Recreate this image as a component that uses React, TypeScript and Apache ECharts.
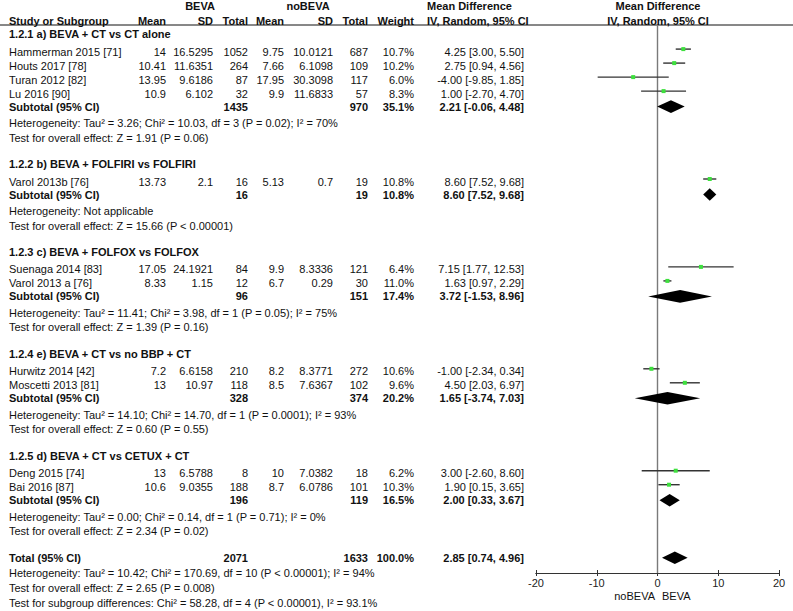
import React, { useEffect, useRef } from 'react';
import * as echarts from 'echarts';

// ---------- data ----------
const groupTitles = [
  '1.2.1 a) BEVA + CT vs CT alone',
  '1.2.2 b) BEVA + FOLFIRI vs FOLFIRI',
  '1.2.3 c) BEVA + FOLFOX vs FOLFOX',
  '1.2.4 e) BEVA + CT vs no BBP + CT',
  '1.2.5 d) BEVA + CT vs CETUX + CT',
];
const studyNames = [
  'Hammerman 2015 [71]', 'Houts 2017 [78]', 'Turan 2012 [82]', 'Lu 2016 [90]',
  'Varol 2013b [76]',
  'Suenaga 2014 [83]', 'Varol 2013 a [76]',
  'Hurwitz 2014 [42]', 'Moscetti 2013 [81]',
  'Deng 2015 [74]', 'Bai 2016 [87]',
];
const studyGroup = [0, 0, 0, 0, 1, 2, 2, 3, 3, 4, 4];
const bevaMean = [14, 10.41, 13.95, 10.9, 13.73, 17.05, 8.33, 7.2, 13, 13, 10.6];
const bevaSD = [16.5295, 11.6351, 9.6186, 6.102, 2.1, 24.1921, 1.15, 6.6158, 10.97, 6.5788, 9.0355];
const bevaTotal = [1052, 264, 87, 32, 16, 84, 12, 210, 118, 8, 188];
const noMean = [9.75, 7.66, 17.95, 9.9, 5.13, 9.9, 6.7, 8.2, 8.5, 10, 8.7];
const noSD = [10.0121, 6.1098, 30.3098, 11.6833, 0.7, 8.3336, 0.29, 8.3771, 7.6367, 7.0382, 6.0786];
const noTotal = [687, 109, 117, 57, 19, 121, 30, 272, 102, 18, 101];
const studyWeight = [10.7, 10.2, 6.0, 8.3, 10.8, 6.4, 11.0, 10.6, 9.6, 6.2, 10.3];
const studyMD = [4.25, 2.75, -4.0, 1.0, 8.6, 7.15, 1.63, -1.0, 4.5, 3.0, 1.9];
const studyLo = [3.0, 0.94, -9.85, -2.7, 7.52, 1.77, 0.97, -2.34, 2.03, -2.6, 0.15];
const studyHi = [5.5, 4.56, 1.85, 4.7, 9.68, 12.53, 2.29, 0.34, 6.97, 8.6, 3.65];

const subBevaTotal = [1435, 16, 96, 328, 196];
const subNoTotal = [970, 19, 151, 374, 119];
const subWeight = [35.1, 10.8, 17.4, 20.2, 16.5];
const subMD = [2.21, 8.6, 3.72, 1.65, 2.0];
const subLo = [-0.06, 7.52, -1.53, -3.74, 0.33];
const subHi = [4.48, 9.68, 8.96, 7.03, 3.67];
const subHeterogeneity = [
  'Heterogeneity: Tau² = 3.26; Chi² = 10.03, df = 3 (P = 0.02); I² = 70%',
  'Heterogeneity: Not applicable',
  'Heterogeneity: Tau² = 11.41; Chi² = 3.98, df = 1 (P = 0.05); I² = 75%',
  'Heterogeneity: Tau² = 14.10; Chi² = 14.70, df = 1 (P = 0.0001); I² = 93%',
  'Heterogeneity: Tau² = 0.00; Chi² = 0.14, df = 1 (P = 0.71); I² = 0%',
];
const subOverall = [
  'Test for overall effect: Z = 1.91 (P = 0.06)',
  'Test for overall effect: Z = 15.66 (P < 0.00001)',
  'Test for overall effect: Z = 1.39 (P = 0.16)',
  'Test for overall effect: Z = 0.60 (P = 0.55)',
  'Test for overall effect: Z = 2.34 (P = 0.02)',
];
const totalBevaTotal = 2071;
const totalNoTotal = 1633;
const totalWeight = 100.0;
const totalMD = 2.85;
const totalLo = 0.74;
const totalHi = 4.96;
const totalNotes = [
  'Heterogeneity: Tau² = 10.42; Chi² = 170.69, df = 10 (P < 0.00001); I² = 94%',
  'Test for overall effect: Z = 2.65 (P = 0.008)',
  'Test for subgroup differences: Chi² = 58.28, df = 4 (P < 0.00001), I² = 93.1%',
];
const xMin = -20;
const xMax = 20;
const xStep = 10;

// ---------- layout ----------
const W = 793;
const H = 611;
const AXIS_Y = 573;
const HEADER_LINE_Y = 25;
const FONT = '"Liberation Sans", Arial, Helvetica, sans-serif';
const COL = {
  name: 9, bMean: 166, bSD: 213, bTot: 248, nMean: 284, nSD: 333, nTot: 368,
  weight: 414, md: 524, mdHead: 427, plotHead: 658,
};

const fmtMD = (m: number, l: number, h: number) => `${m.toFixed(2)} [${l.toFixed(2)}, ${h.toFixed(2)}]`;

export default function App() {
  const ref = useRef<HTMLDivElement>(null);
  useEffect(() => {
    if (!ref.current) return;
    const chart = echarts.init(ref.current, undefined, { renderer: 'svg' });

    const texts: any[] = [];
    const addText = (text: string, x: number, y: number, align: string, bold = false) => {
      texts.push({
        type: 'text',
        silent: true,
        style: {
          text, x, y,
          textAlign: align,
          textVerticalAlign: 'middle',
          font: `${bold ? 'bold ' : ''}11px ${FONT}`,
          fill: '#111',
        },
      });
    };

    // header
    addText('BEVA', 200, 6, 'center', true);
    addText('noBEVA', 308, 6, 'center', true);
    addText('Mean Difference', COL.mdHead, 6, 'left', true);
    addText('Mean Difference', COL.plotHead, 6, 'center', true);
    addText('Study or Subgroup', COL.name, 20.5, 'left', true);
    addText('Mean', COL.bMean, 20.5, 'right', true);
    addText('SD', COL.bSD, 20.5, 'right', true);
    addText('Total', COL.bTot, 20.5, 'right', true);
    addText('Mean', COL.nMean, 20.5, 'right', true);
    addText('SD', COL.nSD, 20.5, 'right', true);
    addText('Total', COL.nTot, 20.5, 'right', true);
    addText('Weight', COL.weight, 20.5, 'right', true);
    addText('IV, Random, 95% CI', COL.mdHead, 20.5, 'left', true);
    addText('IV, Random, 95% CI', COL.plotHead, 20.5, 'center', true);

    const forestData: any[] = [];
    let y = 34.3;
    groupTitles.forEach((title, g) => {
      addText(title, COL.name, y, 'left', true);
      const idx = studyGroup.map((gg, i) => (gg === g ? i : -1)).filter((i) => i >= 0);
      idx.forEach((i, k) => {
        y += k === 0 ? 17.3 : 14;
        addText(studyNames[i], COL.name, y, 'left');
        addText(String(bevaMean[i]), COL.bMean, y, 'right');
        addText(String(bevaSD[i]), COL.bSD, y, 'right');
        addText(String(bevaTotal[i]), COL.bTot, y, 'right');
        addText(String(noMean[i]), COL.nMean, y, 'right');
        addText(String(noSD[i]), COL.nSD, y, 'right');
        addText(String(noTotal[i]), COL.nTot, y, 'right');
        addText(studyWeight[i].toFixed(1) + '%', COL.weight, y, 'right');
        addText(fmtMD(studyMD[i], studyLo[i], studyHi[i]), COL.md, y, 'right');
        forestData.push([studyMD[i], studyLo[i], studyHi[i], y - 2.5, 0]);
      });
      y += 13;
      addText('Subtotal (95% CI)', COL.name, y, 'left', true);
      addText(String(subBevaTotal[g]), COL.bTot, y, 'right', true);
      addText(String(subNoTotal[g]), COL.nTot, y, 'right', true);
      addText(subWeight[g].toFixed(1) + '%', COL.weight, y, 'right', true);
      addText(fmtMD(subMD[g], subLo[g], subHi[g]), COL.md, y, 'right', true);
      forestData.push([subMD[g], subLo[g], subHi[g], y, 1]);
      y += 16.3;
      addText(subHeterogeneity[g], COL.name, y, 'left');
      y += 14.7;
      addText(subOverall[g], COL.name, y, 'left');
      y += 26.6;
    });
    addText('Total (95% CI)', COL.name, y, 'left', true);
    addText(String(totalBevaTotal), COL.bTot, y, 'right', true);
    addText(String(totalNoTotal), COL.nTot, y, 'right', true);
    addText(totalWeight.toFixed(1) + '%', COL.weight, y, 'right', true);
    addText(fmtMD(totalMD, totalLo, totalHi), COL.md, y, 'right', true);
    forestData.push([totalMD, totalLo, totalHi, y, 1]);
    y += 15.3;
    totalNotes.forEach((t, k) => {
      if (k > 0) y += k === 1 ? 14.5 : 15;
      addText(t, COL.name, y, 'left');
    });

    addText('noBEVA', 655, 596, 'right');
    addText('BEVA', 662, 596, 'left');

    const graphic: any[] = [
      {
        type: 'line',
        silent: true,
        shape: { x1: 0, y1: HEADER_LINE_Y, x2: W, y2: HEADER_LINE_Y },
        style: { stroke: '#111', lineWidth: 1 },
      },
      ...texts,
    ];

    const baseAxis = {
      type: 'value',
      min: xMin,
      max: xMax,
      interval: xStep,
      gridIndex: 0,
      position: 'bottom',
      splitLine: { show: false },
      axisLine: { show: true, onZero: false, lineStyle: { color: '#333', width: 1 } },
    };

    chart.setOption({
      animation: false,
      backgroundColor: '#fff',
      graphic,
      grid: [{ left: 536, right: W - 779, top: 0, bottom: H - AXIS_Y }],
      xAxis: [
        {
          ...baseAxis,
          axisTick: { show: true, inside: false, length: 3, lineStyle: { color: '#333' } },
          axisLabel: { show: true, fontSize: 11, color: '#222', margin: 4, fontFamily: FONT },
        },
        {
          ...baseAxis,
          axisTick: { show: true, inside: true, length: 3, lineStyle: { color: '#333' } },
          axisLabel: { show: false },
        },
      ],
      yAxis: [{ type: 'value', min: 0, max: AXIS_Y, inverse: true, show: false, gridIndex: 0 }],
      series: [
        {
          type: 'custom',
          xAxisIndex: 0,
          yAxisIndex: 0,
          silent: true,
          data: [[0]],
          renderItem: (params: any, api: any) => {
            const a = api.coord([api.value(0), HEADER_LINE_Y]);
            const b = api.coord([api.value(0), AXIS_Y]);
            return {
              type: 'line',
              shape: { x1: a[0], y1: a[1], x2: b[0], y2: b[1] },
              style: { stroke: '#7a7a7a', lineWidth: 1.4 },
            };
          },
        },
        {
          type: 'custom',
          xAxisIndex: 0,
          yAxisIndex: 0,
          silent: true,
          data: forestData,
          renderItem: (params: any, api: any) => {
            const est = api.value(0);
            const lo = api.value(1);
            const hi = api.value(2);
            const yy = api.value(3);
            const kind = api.value(4);
            const pE = api.coord([est, yy]);
            const pL = api.coord([lo, yy]);
            const pH = api.coord([hi, yy]);
            if (kind === 0) {
              return {
                type: 'group',
                children: [
                  {
                    type: 'line',
                    shape: { x1: pL[0], y1: pE[1], x2: pH[0], y2: pE[1] },
                    style: { stroke: '#333', lineWidth: 1.4 },
                  },
                  {
                    type: 'rect',
                    shape: { x: pE[0] - 2, y: pE[1] - 2, width: 4, height: 4 },
                    style: { fill: '#3ee03e' },
                  },
                ],
              };
            }
            return {
              type: 'polygon',
              shape: {
                points: [
                  [pL[0], pE[1]],
                  [pE[0], pE[1] - 6.3],
                  [pH[0], pE[1]],
                  [pE[0], pE[1] + 6.3],
                ],
              },
              style: { fill: '#000' },
            };
          },
        },
      ],
    });
    return () => chart.dispose();
  }, []);
  return <div ref={ref} style={{ position: 'absolute', left: 0, top: 0, width: W, height: H }} />;
}
